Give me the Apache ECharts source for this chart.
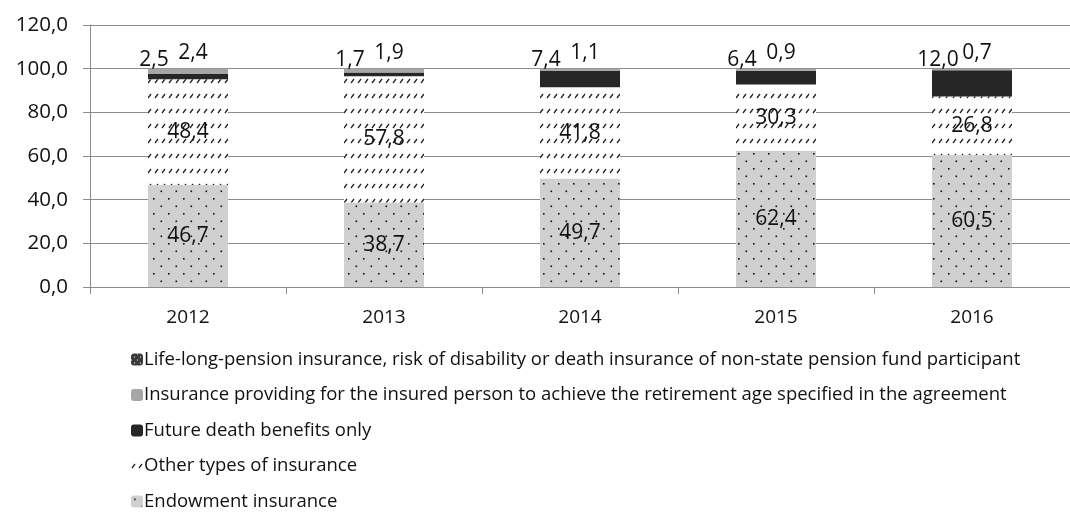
<!DOCTYPE html>
<html>
<head>
<meta charset="utf-8">
<script src="https://cdn.jsdelivr.net/npm/echarts@6/dist/echarts.min.js"></script>
<style>
  html, body { margin: 0; padding: 0; background: #fff; }
  #chart { width: 1070px; height: 512px; }
</style>
</head>
<body>
<div id="chart"></div>
<script>
// data (shares, %)
var years = ['2012', '2013', '2014', '2015', '2016'];
var endowment = [46.7, 38.7, 49.7, 62.4, 60.5];
var otherTypes = [48.4, 57.8, 41.8, 30.3, 26.8];
var deathOnly = [2.5, 1.7, 7.4, 6.4, 12.0];
var retirementAge = [2.4, 1.9, 1.1, 0.9, 0.7];
var lifeLong = [0, 0, 0, 0, 0];
var yTicks = [0, 20, 40, 60, 80, 100, 120];

var names = [
  'Endowment insurance',
  'Other types of insurance',
  'Future death benefits only',
  'Insurance providing for the insured person to achieve the retirement age specified in the agreement',
  'Life-long-pension insurance, risk of disability or death insurance of non-state pension fund participant'
];

var FONT = 'Open Sans';
var gridTop = 25, gridBottom = 225;
var ppu = (512 - gridTop - gridBottom) / (yTicks[yTicks.length - 1] - yTicks[0]);

function fmt(v) { return v.toFixed(1).replace('.', ','); }

// little canvas patterns to imitate the excel fills
function pattern(w, h, bg, draw) {
  var c = document.createElement('canvas');
  c.width = w; c.height = h;
  var ctx = c.getContext('2d');
  ctx.fillStyle = bg;
  ctx.fillRect(0, 0, w, h);
  draw(ctx);
  return { image: c, repeat: 'repeat' };
}

var dots = pattern(15, 15, '#d0d0d0', function (ctx) {
  ctx.fillStyle = '#111';
  ctx.fillRect(3, 3, 1.6, 1.6);
  ctx.fillRect(10.5, 10.5, 1.6, 1.6);
});

var hatch = pattern(7, 15, '#ffffff', function (ctx) {
  ctx.strokeStyle = '#222';
  ctx.lineWidth = 1.3;
  ctx.beginPath();
  ctx.moveTo(1, 8); ctx.lineTo(4, 4);
  ctx.stroke();
});

var lifePat = pattern(6, 6, '#3a3a3a', function (ctx) {
  ctx.fillStyle = '#fff';
  ctx.fillRect(0, 0, 1, 1);
  ctx.fillRect(3, 3, 1, 1);
});

var myChart = echarts.init(document.getElementById('chart'));

var labelBase = { fontFamily: FONT, fontSize: 21, color: '#111' };

// death-only labels sit up above the bar, left of the retirement-age ones
var deathData = deathOnly.map(function (v, i) {
  return {
    value: v,
    label: { offset: [-34, -(retirementAge[i] + lifeLong[i]) * ppu + 4] }
  };
});

var option = {
  animation: false,
  textStyle: { fontFamily: FONT },
  grid: { left: 90, right: 0, top: gridTop, bottom: gridBottom },
  legend: {
    orient: 'vertical',
    left: 126,
    top: 345,
    height: 220,
    itemWidth: 12,
    itemHeight: 12,
    itemGap: 16.5,
    textStyle: { fontFamily: FONT, fontSize: 18.5, color: '#111', padding: [0, 0, 0, -4] },
    data: names.slice().reverse()
  },
  xAxis: {
    type: 'category',
    data: years,
    axisLine: { lineStyle: { color: '#8c8c8c' } },
    axisTick: { show: true, length: 7, lineStyle: { color: '#8c8c8c' } },
    axisLabel: { fontFamily: FONT, fontSize: 19, color: '#111', margin: 21 }
  },
  yAxis: {
    type: 'value',
    min: 0,
    max: 120,
    interval: 20,
    axisLine: { show: true, lineStyle: { color: '#8c8c8c' } },
    axisTick: { show: true, length: 7, lineStyle: { color: '#8c8c8c' } },
    splitLine: { lineStyle: { color: '#8c8c8c' } },
    axisLabel: {
      fontFamily: FONT, fontSize: 20.5, color: '#111', margin: 22,
      formatter: function (v) { return fmt(v); }
    }
  },
  series: [
    {
      name: names[0], type: 'bar', stack: 'a', barWidth: 80,
      data: endowment,
      itemStyle: { color: dots },
      label: Object.assign({ show: true, position: 'inside', formatter: function (p) { return fmt(p.value); } }, labelBase)
    },
    {
      name: names[1], type: 'bar', stack: 'a', barWidth: 80,
      data: otherTypes,
      itemStyle: { color: hatch },
      label: Object.assign({ show: true, position: 'inside', formatter: function (p) { return fmt(p.value); } }, labelBase)
    },
    {
      name: names[2], type: 'bar', stack: 'a', barWidth: 80,
      data: deathData,
      itemStyle: { color: '#262626' },
      label: Object.assign({ show: true, position: 'top', distance: 2, formatter: function (p) { return fmt(p.value); } }, labelBase)
    },
    {
      name: names[3], type: 'bar', stack: 'a', barWidth: 80,
      data: retirementAge,
      itemStyle: { color: '#a6a6a6' },
      label: Object.assign({ show: true, position: 'top', distance: 5, offset: [5, 0], formatter: function (p) { return fmt(p.value); } }, labelBase)
    },
    {
      name: names[4], type: 'bar', stack: 'a', barWidth: 80,
      data: lifeLong,
      itemStyle: { color: lifePat }
    }
  ]
};

myChart.setOption(option);
</script>
</body>
</html>
